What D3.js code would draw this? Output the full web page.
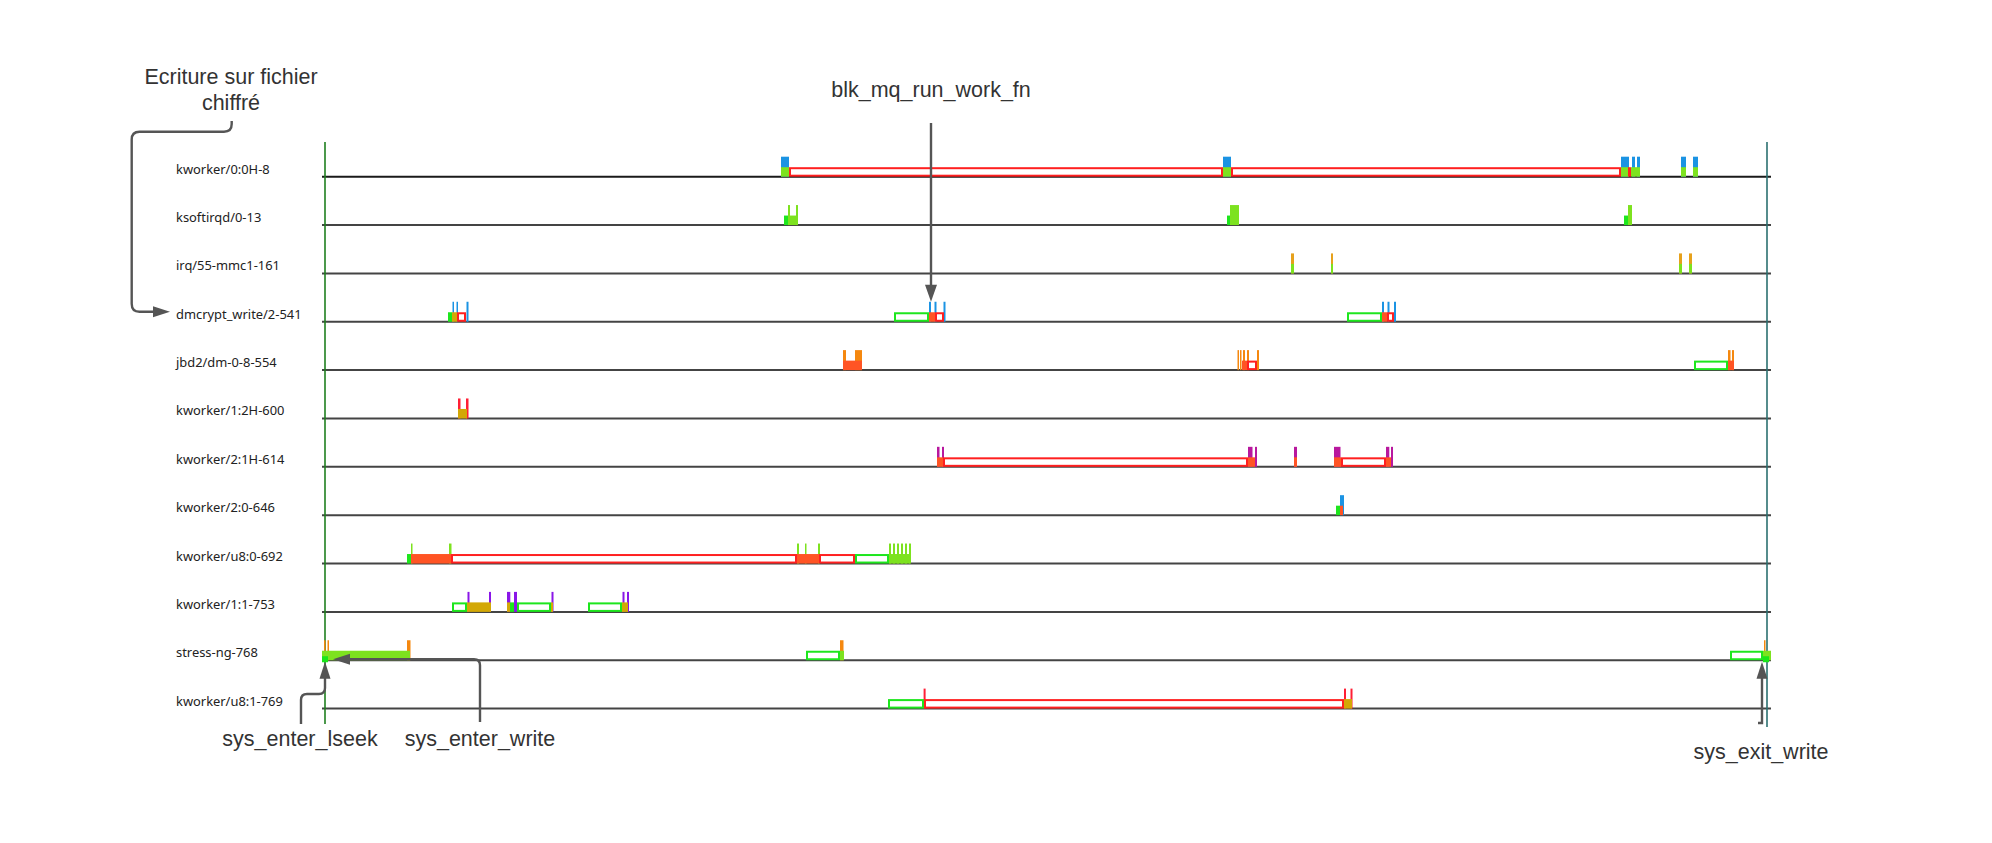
<!DOCTYPE html>
<html><head><meta charset="utf-8">
<script src="https://cdn.jsdelivr.net/npm/d3@7"></script>
<style>body{margin:0;background:#fff}svg{display:block}</style>
</head><body><svg id="c" width="1992" height="843"></svg>
<script>
// ---- data ----
const processes = ["kworker/0:0H-8","ksoftirqd/0-13","irq/55-mmc1-161","dmcrypt_write/2-541","jbd2/dm-0-8-554","kworker/1:2H-600","kworker/2:1H-614","kworker/2:0-646","kworker/u8:0-692","kworker/1:1-753","stress-ng-768","kworker/u8:1-769"];
const timeDomain = [0, 1442]; // µs from sys_enter_lseek to sys_exit_write

// waiting (runnable) spans, green outline: [row, start, end]
const waitSpans = [
 [1,459,463],[1,902,905],[1,1299,1303],
 [3,123,127],[3,569,604],[3,1022,1057],
 [4,1369,1403],
 [7,1011,1015],
 [8,82,86],[8,530,564],
 [9,127,142],[9,185,189],[9,192,226],[9,263,297],
 [10,481,515],[10,1405,1438],
 [11,563,599]
];
// blocked spans, red outline: [row, start, end]
const blockSpans = [
 [0,464,898],[0,906,1296],[0,1303,1306],
 [3,132,141],[3,610,619],[3,1062,1069],
 [4,922,932],
 [6,618,923],[6,1016,1061],
 [8,126,472],[8,494,530],
 [11,599,1019]
];
// running spans (lower half filled): [row, start, end, state]
const runFills = [
 [0,456,464,"user"],[0,898,906,"user"],[0,1296,1304,"user"],[0,1306,1315,"user"],[0,1356,1361,"user"],[0,1368,1373,"user"],
 [1,463,473,"user"],
 [2,966,969,"user"],[2,1006,1008,"user"],[2,1354,1357,"user"],[2,1364,1367,"user"],
 [3,127,132,"kernel"],[3,604,610,"io"],[3,1057,1062,"io"],
 [4,518,537,"io"],[4,917,922,"io"],[4,1403,1409,"io"],
 [5,133,142,"kernel"],
 [6,612,618,"io"],[6,923,930,"io"],[6,969,972,"io"],[6,1009,1016,"io"],[6,1061,1066,"io"],
 [7,1015,1018,"io"],
 [8,86,126,"io"],[8,472,494,"io"],[8,564,585,"user"],
 [9,142,166,"kernel"],[9,182,185,"kernel"],[9,226,228,"kernel"],[9,297,303,"kernel"],
 [10,-3,85,"user"],[10,515,519,"user"],[10,1438,1446,"user"],
 [11,1019,1027,"kernel"]
];
// events (full-height ticks): [row, time, duration, kind]
const events = [
 [0,456,8,"block"],[0,898,8,"block"],[0,1296,8,"block"],[0,1307,3,"block"],[0,1312,3,"block"],[0,1356,5,"block"],[0,1368,5,"block"],
 [1,463,2,"softirq"],[1,471,2,"softirq"],[1,905,9,"softirq"],[1,1303,4,"softirq"],
 [2,966,3,"irq"],[2,1006,2,"irq"],[2,1354,3,"irq"],[2,1364,3,"irq"],
 [3,127.5,1.5,"block"],[3,131.5,1.5,"block"],[3,141.5,2,"block"],[3,604,2,"block"],[3,609.5,2,"block"],[3,618.5,2,"block"],[3,1057,2,"block"],[3,1062.5,2,"block"],[3,1069,2,"block"],
 [4,518,3,"fs"],[4,530,7,"fs"],[4,912.5,1.5,"fs"],[4,915,1.5,"fs"],[4,918,2,"fs"],[4,922,2,"fs"],[4,932,2,"fs"],[4,1403,2.5,"fs"],[4,1407,2,"fs"],
 [5,133,2.5,"sched"],[5,141,2.5,"sched"],
 [6,612,2.5,"workq"],[6,617,2,"workq"],[6,923,4.5,"workq"],[6,930,2,"workq"],[6,969,3,"workq"],[6,1009,6.5,"workq"],[6,1061,3.3,"workq"],[6,1066,2,"workq"],
 [7,1015,4,"block"],
 [8,86,1.5,"softirq"],[8,124,2.5,"softirq"],[8,472,2,"softirq"],[8,480,1.5,"softirq"],[8,493,2,"softirq"],[8,564,2,"softirq"],[8,568,2,"softirq"],[8,572,2,"softirq"],[8,576,2,"softirq"],[8,580,2,"softirq"],[8,584,2,"softirq"],
 [9,142.5,2,"timer"],[9,164,2,"timer"],[9,182,3.3,"timer"],[9,189,3,"timer"],[9,226.5,2,"timer"],[9,297.5,2,"timer"],[9,302,2,"timer"],
 [10,-1,1.5,"fs"],[10,2.5,1.5,"fs"],[10,82,3.5,"fs"],[10,515,3.5,"fs"],[10,1439,1.5,"fs"],
 [11,598.6,2,"sched"],[11,1019,2,"sched"],[11,1025.5,2,"sched"]
];
// syscall markers: [row, time]
const syscalls = [[10,0],[10,1441]];
// annotations
const annotations = [
 {text:"blk_mq_run_work_fn", row:3, t:606, kind:"down"},
 {text:"sys_enter_lseek", row:10, t:0, kind:"lseek"},
 {text:"sys_enter_write", row:10, t:8, kind:"left"},
 {text:"sys_exit_write", row:10, t:1437, kind:"up"}
];
const noteTitle = ["Ecriture sur fichier","chiffré"];

// ---- styles ----
const stateColor = {user:"#7de21f", kernel:"#d3a806", io:"#ff5424"};
const eventColor = {block:"#1b93e3", softirq:"#7de21f", irq:"#e6a11c", fs:"#f5880f", sched:"#ff1f35", workq:"#b8189e", timer:"#8a16e8"};

const svg = d3.select("#c");
const x = d3.scaleLinear().domain(timeDomain).range([325, 1767]);
const y = d3.scalePoint().domain(d3.range(processes.length)).range([176.7, 708.6]);
const TICK_H = 20, FILL_H = 9.5;

// row baselines
svg.append("g").selectAll("line").data(processes).join("line")
  .attr("x1", 322).attr("x2", 1771)
  .attr("y1", (d,i)=>y(i)).attr("y2", (d,i)=>y(i))
  .attr("stroke", (d,i)=> i===0 ? "#1a1a1a" : "#444").attr("stroke-width", 2);

// labels
svg.append("g").selectAll("text").data(processes).join("text")
  .attr("x", 176).attr("y", (d,i)=>y(i)-3)
  .attr("font-family","Noto Sans, Open Sans, sans-serif").attr("font-size", 12.9)
  .attr("fill","#222").text(d=>d);

// start / end lines
svg.append("line").attr("x1", x(timeDomain[0])).attr("x2", x(timeDomain[0]))
  .attr("y1",142).attr("y2",724).attr("stroke","#1f7f1f").attr("stroke-width",1.6);
svg.append("line").attr("x1", x(timeDomain[1])).attr("x2", x(timeDomain[1]))
  .attr("y1",142).attr("y2",727).attr("stroke","#2b7070").attr("stroke-width",1.6);

// events
svg.append("g").selectAll("rect").data(events).join("rect")
  .attr("x", d=>x(d[1])).attr("width", d=>Math.max(1.5, x(d[1]+d[2])-x(d[1])))
  .attr("y", d=>y(d[0])-TICK_H).attr("height", TICK_H)
  .attr("fill", d=>eventColor[d[3]]);

// run fills
svg.append("g").selectAll("rect").data(runFills).join("rect")
  .attr("x", d=>x(d[1])).attr("width", d=>x(d[2])-x(d[1]))
  .attr("y", d=>y(d[0])-FILL_H).attr("height", FILL_H)
  .attr("fill", d=>stateColor[d[3]]);

// hollow spans
function hollow(data, color){
  svg.append("g").selectAll("rect").data(data).join("rect")
    .attr("x", d=>x(d[1])+1).attr("width", d=>Math.max(1, x(d[2])-x(d[1])-2))
    .attr("y", d=>y(d[0])-FILL_H+1).attr("height", FILL_H-2)
    .attr("fill","#fff").attr("stroke", color).attr("stroke-width",2);
}
hollow(waitSpans, "#1de61d");
hollow(blockSpans, "#ff2020");

// syscall markers
svg.append("g").selectAll("rect").data(syscalls).join("rect")
  .attr("x", d=>x(d[1])-3).attr("y", d=>y(d[0])-4).attr("width",6).attr("height",6)
  .attr("fill","#19e619");

// annotations
const AC = "#555";
const ag = svg.append("g");
function txt(s, cx, cy){
  ag.append("text").attr("x",cx).attr("y",cy).attr("text-anchor","middle")
    .attr("dominant-baseline","central").attr("font-family","Liberation Sans, Arial, sans-serif")
    .attr("font-size",21.5).attr("fill","#333").text(s);
}
function path(d){ ag.append("path").attr("d",d).attr("fill","none").attr("stroke",AC).attr("stroke-width",2.4); }
function head(pts){ ag.append("polygon").attr("points",pts.map(p=>p.join(",")).join(" ")).attr("fill",AC); }

annotations.forEach(a=>{
  const ax = x(a.t), base = y(a.row);
  if(a.kind==="down"){
    const tip = base - TICK_H;
    txt(a.text, ax, 90);
    path(`M${ax},123 V${tip-16}`);
    head([[ax,tip],[ax-6,tip-17],[ax+6,tip-17]]);
  } else if(a.kind==="lseek"){
    const tip = base + 1.5, tx = ax - 24;
    txt(a.text, tx-1, 739);
    path(`M${tx},724 V700 Q${tx},694 ${tx+6},694 H${ax-6} Q${ax},694 ${ax},688 V${tip+16}`);
    head([[ax,tip],[ax-5.5,tip+17],[ax+5.5,tip+17]]);
  } else if(a.kind==="left"){
    const ty = base - 1, tx = 480;
    txt(a.text, tx, 739);
    path(`M${tx},722 V${ty+6} Q${tx},${ty} ${tx-6},${ty} H${ax+16}`);
    head([[ax,ty],[ax+17,ty-5.5],[ax+17,ty+5.5]]);
  } else if(a.kind==="up"){
    const tip = base + 1.5;
    txt(a.text, ax-1, 752);
    path(`M${ax-4},723 H${ax} V${tip+16}`);
    head([[ax,tip],[ax-5.5,tip+17],[ax+5.5,tip+17]]);
  }
});

// "Ecriture" note pointing to dmcrypt row label
txt(noteTitle[0], 231, 77);
txt(noteTitle[1], 231, 103);
{
  const ty = y(3) - 10;
  path(`M231.7,121 V124 Q231.7,131.7 224,131.7 H139.5 Q131.7,131.7 131.7,139.5 V${ty-8} Q131.7,${ty} 139.5,${ty} H154`);
  head([[170,ty],[153,ty-5.5],[153,ty+5.5]]);
}
</script></body></html>
